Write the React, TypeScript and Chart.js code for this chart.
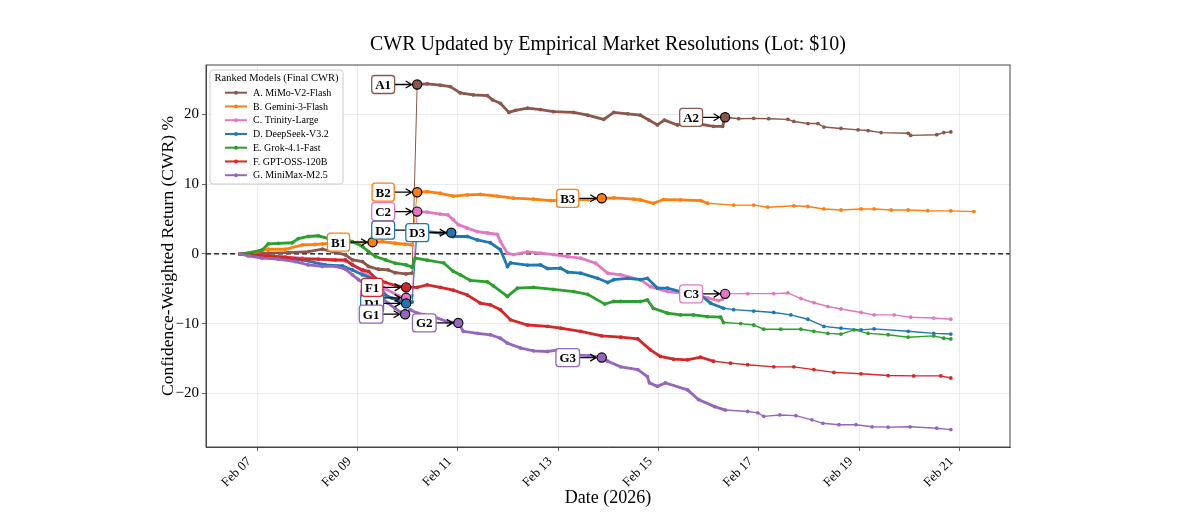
import React, { useEffect, useRef } from "react";
import { Chart, registerables } from "chart.js";

Chart.register(...registerables);

const FONT = '"Liberation Serif", "Times New Roman", serif';

const chartTitle = "CWR Updated by Empirical Market Resolutions (Lot: $10)";
const xAxisTitle = "Date (2026)";
const yAxisTitle = "Confidence-Weighted Return (CWR) %";
const legendTitle = "Ranked Models (Final CWR)";

const modelNames = [
  "A. MiMo-V2-Flash",
  "B. Gemini-3-Flash",
  "C. Trinity-Large",
  "D. DeepSeek-V3.2",
  "E. Grok-4.1-Fast",
  "F. GPT-OSS-120B",
  "G. MiniMax-M2.5",
];
const modelColors = ["#8c564b", "#ff7f0e", "#e377c2", "#1f77b4", "#2ca02c", "#d62728", "#9467bd"];

// x values are days of February 2026 (fractional)
const aDays = [6.66, 6.82, 7.22, 7.62, 8.02, 8.3, 8.5, 8.76, 8.9, 9.1, 9.22, 9.42, 9.61, 9.75, 9.97, 10.09, 10.19, 10.39, 10.65, 10.85, 11.05, 11.31, 11.59, 11.69, 11.85, 12.02, 12.15, 12.39, 12.65, 12.91, 13.31, 13.59, 13.91, 14.11, 14.39, 14.64, 14.81, 14.98, 15.12, 15.38, 15.58, 15.84, 16.1, 16.28, 16.33, 16.6, 16.9, 17.2, 17.58, 17.7, 17.98, 18.18, 18.3, 18.64, 18.98, 19.18, 19.44, 19.98, 20.03, 20.55, 20.69, 20.83];
const aCwr = [0, 0.05, 0.1, 0.19, 0.33, 0.67, 0.33, -0.14, -0.86, -1.1, -1.8, -2.2, -2.3, -2.7, -2.87, -2.77, 24.3, 24.4, 24.2, 24.0, 23.1, 22.8, 22.7, 22.1, 21.6, 20.3, 20.6, 20.9, 20.7, 20.4, 20.3, 19.9, 19.3, 20.3, 20.1, 19.9, 19.2, 18.5, 19.2, 18.5, 18.8, 18.6, 18.3, 18.3, 19.6, 19.4, 19.45, 19.4, 19.3, 19.0, 18.7, 18.7, 18.2, 18.0, 17.8, 17.7, 17.4, 17.3, 17.0, 17.1, 17.4, 17.5];

const bDays = [6.66, 6.9, 7.22, 7.56, 7.9, 8.15, 8.3, 8.6, 9.0, 9.3, 9.5, 9.75, 9.95, 10.09, 10.19, 10.39, 10.65, 10.91, 11.19, 11.45, 11.79, 12.11, 12.51, 12.85, 13.3, 13.6, 13.87, 14.11, 14.51, 14.64, 14.9, 15.1, 15.44, 15.84, 15.98, 16.5, 16.9, 17.18, 17.7, 17.98, 18.3, 18.64, 19.04, 19.3, 19.64, 19.98, 20.37, 20.83, 21.29];
const bCwr = [0, 0.2, 0.67, 0.67, 1.29, 1.35, 1.43, 1.6, 1.65, 1.68, 1.76, 1.53, 1.4, 1.29, 8.85, 8.93, 8.7, 8.3, 8.46, 8.55, 8.3, 8.0, 7.85, 7.65, 7.75, 7.8, 7.98, 8.05, 7.85, 7.75, 7.25, 7.8, 7.75, 7.65, 7.27, 7.0, 7.0, 6.7, 6.9, 6.8, 6.45, 6.3, 6.45, 6.45, 6.3, 6.3, 6.2, 6.17, 6.07];

const cDays = [6.66, 6.9, 7.22, 7.9, 8.5, 8.76, 8.9, 9.1, 9.3, 9.56, 9.81, 9.97, 10.09, 10.19, 10.39, 10.65, 10.8, 10.91, 11.01, 11.19, 11.39, 11.59, 11.79, 11.85, 11.99, 12.11, 12.39, 12.65, 12.91, 13.19, 13.45, 13.75, 13.99, 14.25, 14.64, 14.84, 15.18, 15.44, 15.7, 15.98, 16.2, 16.28, 16.33, 16.78, 17.3, 17.58, 17.84, 18.1, 18.38, 18.64, 19.04, 19.3, 19.7, 20.03, 20.49, 20.83];
const cCwr = [0, -0.1, -0.3, -0.6, -0.9, -1.0, -1.5, -2.5, -3.5, -5.0, -6.0, -6.3, -6.0, 6.07, 6.0, 5.7, 5.6, 4.9, 4.2, 3.7, 3.2, 3.0, 2.8, 1.8, 0.1, -0.1, 0.3, 0.1, -0.1, -0.4, -0.6, -1.34, -2.77, -3.0, -3.7, -4.7, -5.4, -5.6, -5.9, -6.3, -6.7, -6.5, -5.73, -5.7, -5.7, -5.6, -6.4, -7.0, -7.55, -7.9, -8.4, -8.75, -8.75, -9.08, -9.2, -9.37];

const dDays = [6.66, 6.9, 7.22, 7.9, 8.36, 8.7, 8.9, 9.1, 9.36, 9.56, 9.69, 9.89, 9.97, 10.09, 10.19, 10.39, 10.65, 10.87, 10.91, 11.19, 11.39, 11.65, 11.85, 11.99, 12.05, 12.39, 12.65, 12.79, 13.05, 13.19, 13.45, 13.79, 13.99, 14.11, 14.39, 14.64, 14.78, 14.98, 15.18, 15.44, 15.84, 16.04, 16.3, 16.5, 16.9, 17.3, 17.64, 17.98, 18.3, 18.64, 19.04, 19.3, 19.98, 20.49, 20.83];
const dCwr = [0, -0.2, -0.48, -0.86, -1.58, -1.72, -2.3, -3.0, -3.7, -5.9, -6.35, -6.83, -7.1, -6.9, 3.4, 3.2, 3.0, 3.05, 2.5, 2.5, 2.0, 1.6, 0.6, -1.8, -1.3, -1.6, -1.58, -2.1, -2.05, -2.6, -2.77, -3.5, -4.1, -3.7, -3.5, -3.7, -3.5, -4.9, -4.9, -5.4, -5.9, -7.07, -7.8, -8.0, -8.2, -8.4, -8.75, -9.37, -10.4, -10.66, -10.9, -10.75, -11.1, -11.4, -11.5];

const eDays = [6.66, 6.82, 7.1, 7.22, 7.42, 7.7, 7.82, 8.02, 8.22, 8.42, 8.7, 8.9, 9.1, 9.22, 9.36, 9.56, 9.75, 9.97, 10.09, 10.15, 10.39, 10.72, 10.91, 11.05, 11.25, 11.59, 11.71, 11.99, 12.19, 12.51, 12.91, 13.31, 13.59, 13.93, 14.11, 14.25, 14.64, 14.78, 14.9, 15.18, 15.44, 15.7, 15.98, 16.24, 16.3, 16.64, 16.9, 17.1, 17.44, 17.84, 18.1, 18.38, 18.64, 18.9, 19.18, 19.58, 19.98, 20.49, 20.69, 20.83];
const eCwr = [0, 0.1, 0.57, 1.43, 1.5, 1.6, 2.2, 2.5, 2.6, 2.2, 2.3, 1.76, 1.05, 0.33, -0.38, -0.86, -1.34, -1.58, -1.9, -0.6, -0.9, -1.3, -2.5, -3.0, -3.8, -4.0, -4.6, -6.1, -4.9, -4.8, -5.1, -5.4, -5.8, -7.2, -6.83, -6.83, -6.83, -6.6, -7.8, -8.5, -8.75, -8.75, -9.0, -9.08, -9.85, -10.0, -10.2, -10.8, -10.8, -10.8, -11.1, -11.4, -11.5, -10.9, -11.4, -11.6, -11.95, -11.76, -12.1, -12.2];

const fDays = [6.66, 6.9, 7.22, 7.56, 7.9, 8.22, 8.56, 8.76, 8.9, 9.1, 9.22, 9.36, 9.56, 9.75, 9.97, 10.19, 10.39, 10.65, 10.91, 11.19, 11.45, 11.65, 11.85, 12.05, 12.39, 12.79, 13.05, 13.45, 13.87, 14.25, 14.59, 14.84, 15.04, 15.3, 15.58, 15.84, 16.1, 16.44, 16.78, 17.3, 17.7, 18.1, 18.5, 19.04, 19.58, 20.09, 20.63, 20.83];
const fCwr = [0, -0.15, -0.29, -0.48, -0.76, -0.76, -0.86, -0.86, -1.58, -2.3, -2.5, -3.5, -4.1, -4.5, -4.8, -4.8, -4.44, -4.8, -5.2, -5.9, -7.07, -7.3, -8.0, -9.46, -10.2, -10.4, -10.66, -11.1, -11.76, -11.95, -12.2, -13.76, -14.7, -15.1, -15.2, -14.8, -15.4, -15.67, -15.9, -16.2, -16.2, -16.6, -17.0, -17.2, -17.45, -17.5, -17.5, -17.8];

const gDays = [6.66, 6.82, 7.1, 7.42, 7.76, 8.02, 8.3, 8.56, 8.76, 8.9, 9.02, 9.22, 9.42, 9.61, 9.75, 9.89, 9.95, 10.05, 10.19, 10.51, 10.79, 11.01, 11.11, 11.39, 11.65, 11.85, 11.99, 12.25, 12.51, 12.79, 13.0, 13.3, 13.6, 13.87, 13.99, 14.25, 14.59, 14.78, 14.82, 14.98, 15.14, 15.58, 15.8, 16.12, 16.34, 16.78, 16.98, 17.1, 17.42, 17.74, 18.06, 18.28, 18.6, 18.94, 19.26, 19.58, 20.02, 20.55, 20.83];
const gCwr = [0, -0.29, -0.62, -0.76, -1.1, -1.58, -1.8, -1.8, -2.2, -3.0, -3.7, -4.7, -5.9, -7.07, -7.8, -8.5, -8.65, -8.0, -8.5, -9.0, -9.7, -9.9, -11.1, -11.4, -11.6, -12.1, -12.8, -13.5, -13.9, -14.0, -13.76, -14.5, -14.6, -14.87, -15.4, -16.2, -16.6, -17.6, -18.5, -19.0, -18.5, -19.5, -20.9, -21.9, -22.4, -22.6, -22.8, -23.3, -23.1, -23.2, -23.8, -24.3, -24.5, -24.5, -24.8, -24.85, -24.8, -25.0, -25.2];

const seriesDays = [aDays, bDays, cDays, dDays, eDays, fDays, gDays];
const seriesCwr = [aCwr, bCwr, cCwr, dCwr, eCwr, fCwr, gCwr];

const xTickDays = [7, 9, 11, 13, 15, 17, 19, 21];
const xTickLabels = ["Feb 07", "Feb 09", "Feb 11", "Feb 13", "Feb 15", "Feb 17", "Feb 19", "Feb 21"];
const yTickValues = [-20, -10, 0, 10, 20];

// annotations: label, series index, day, value
const annLabels = ["A1", "A2", "B1", "B2", "B3", "C1", "C2", "C3", "D1", "D2", "D3", "F1", "G1", "G2", "G3"];
const annSeries = [0, 0, 1, 1, 1, 2, 2, 2, 3, 3, 3, 5, 6, 6, 6];
const annDays = [10.19, 16.33, 9.3, 10.19, 13.87, 9.97, 10.19, 16.33, 9.97, 10.19, 10.87, 9.97, 9.95, 11.01, 13.87];
const annValues = [24.3, 19.6, 1.68, 8.85, 7.98, -6.3, 6.07, -5.73, -7.1, 3.4, 3.05, -4.8, -8.65, -9.9, -14.87];

const overlay = {
  id: "overlay",
  beforeDatasetsDraw(chart: any) {
    const { ctx, chartArea, scales } = chart;
    const y0 = scales.y.getPixelForValue(0);
    ctx.save();
    ctx.beginPath();
    ctx.rect(chartArea.left, chartArea.top, chartArea.right - chartArea.left, chartArea.bottom - chartArea.top);
    ctx.clip();
    ctx.setLineDash([5, 3]);
    ctx.strokeStyle = "#000";
    ctx.lineWidth = 1.1;
    ctx.beginPath();
    ctx.moveTo(chartArea.left, y0);
    ctx.lineTo(chartArea.right, y0);
    ctx.stroke();
    ctx.restore();
  },
  afterDraw(chart: any) {
    const { ctx, chartArea, scales } = chart;
    const { left, right, top, bottom } = chartArea;
    ctx.save();

    // annotations
    const offset = 34;
    for (let i = 0; i < annLabels.length; i++) {
      const color = modelColors[annSeries[i]];
      const mx = scales.x.getPixelForValue(annDays[i]);
      const my = scales.y.getPixelForValue(annValues[i]);
      const cx = mx - offset;
      ctx.font = `bold 13px ${FONT}`;
      const tw = ctx.measureText(annLabels[i]).width;
      const bw = tw + 7;
      const bh = 18;
      const bx = cx - bw / 2;
      const by = my - bh / 2;
      // arrow
      const ax0 = bx + bw;
      const ax1 = mx - 5.5;
      ctx.strokeStyle = "#000";
      ctx.lineWidth = 1.3;
      ctx.setLineDash([]);
      ctx.beginPath();
      ctx.moveTo(ax0, my);
      ctx.lineTo(ax1, my);
      ctx.moveTo(ax1 - 6, my - 3.5);
      ctx.lineTo(ax1, my);
      ctx.lineTo(ax1 - 6, my + 3.5);
      ctx.stroke();
      // marker
      ctx.beginPath();
      ctx.arc(mx, my, 4.6, 0, Math.PI * 2);
      ctx.fillStyle = color;
      ctx.fill();
      ctx.lineWidth = 1.2;
      ctx.strokeStyle = "#000";
      ctx.stroke();
      // box
      ctx.beginPath();
      ctx.roundRect(bx, by, bw, bh, 3);
      ctx.fillStyle = "#fff";
      ctx.fill();
      ctx.strokeStyle = color;
      ctx.lineWidth = 1.3;
      ctx.stroke();
      ctx.fillStyle = "#000";
      ctx.textAlign = "center";
      ctx.textBaseline = "middle";
      ctx.fillText(annLabels[i], cx, my + 1);
    }

    // frame
    ctx.strokeStyle = "#444";
    ctx.lineWidth = 1;
    ctx.strokeRect(left, top, right - left, bottom - top);

    // legend
    const lx = left + 4;
    const ly = top + 5;
    const lw = 133;
    const lh = 114;
    ctx.beginPath();
    ctx.roundRect(lx, ly, lw, lh, 3);
    ctx.fillStyle = "rgba(255,255,255,0.85)";
    ctx.fill();
    ctx.strokeStyle = "#cccccc";
    ctx.lineWidth = 1;
    ctx.stroke();
    ctx.fillStyle = "#000";
    ctx.font = `10.5px ${FONT}`;
    ctx.textAlign = "center";
    ctx.textBaseline = "middle";
    ctx.fillText(legendTitle, lx + lw / 2, ly + 8.5);
    ctx.textAlign = "left";
    ctx.font = `10px ${FONT}`;
    for (let i = 0; i < modelNames.length; i++) {
      const ry = ly + 22.7 + i * 13.75;
      ctx.strokeStyle = modelColors[i];
      ctx.lineWidth = 2;
      ctx.beginPath();
      ctx.moveTo(lx + 15, ry);
      ctx.lineTo(lx + 37, ry);
      ctx.stroke();
      ctx.beginPath();
      ctx.arc(lx + 26, ry, 2, 0, Math.PI * 2);
      ctx.fillStyle = modelColors[i];
      ctx.fill();
      ctx.fillStyle = "#000";
      ctx.fillText(modelNames[i], lx + 43, ry + 0.5);
    }

    // titles
    const midX = (left + right) / 2;
    ctx.fillStyle = "#000";
    ctx.textAlign = "center";
    ctx.textBaseline = "middle";
    ctx.font = `20px ${FONT}`;
    ctx.fillText(chartTitle, midX, 45);
    ctx.font = `18px ${FONT}`;
    ctx.fillText(xAxisTitle, midX, 498);
    ctx.font = `17.5px ${FONT}`;
    ctx.translate(168, (top + bottom) / 2);
    ctx.rotate(-Math.PI / 2);
    ctx.fillText(yAxisTitle, 0, 0);
    ctx.restore();
  },
};

export default function App() {
  const canvasRef = useRef<HTMLCanvasElement>(null);

  useEffect(() => {
    const datasets = modelNames.map((name, i) => ({
      label: name,
      data: seriesDays[i].map((d, j) => ({ x: d, y: seriesCwr[i][j] })),
      borderColor: modelColors[i],
      backgroundColor: modelColors[i],
      pointRadius: 1.9,
      pointBorderWidth: 0,
      pointHoverRadius: 0,
      borderWidth: 1.4,
      tension: 0,
      order: modelNames.length - i,
      segment: {
        borderWidth: (c: any) => {
          if (Math.abs(c.p1.y - c.p0.y) > 30) return 1;
          return c.p1.parsed.x < 16.4 ? 2.8 : 1.4;
        },
      },
    }));

    const chart = new Chart(canvasRef.current as HTMLCanvasElement, {
      type: "line",
      data: { datasets } as any,
      options: {
        animation: false,
        responsive: false,
        devicePixelRatio: 1,
        layout: { padding: { left: 0, right: 190, top: 65, bottom: 0 } },
        plugins: {
          legend: { display: false },
          tooltip: { enabled: false },
          title: { display: false },
        },
        scales: {
          x: {
            type: "linear",
            min: 5.98,
            max: 22.01,
            afterBuildTicks: (s: any) => {
              s.ticks = xTickDays.map((v) => ({ value: v }));
            },
            afterFit: (s: any) => {
              s.height = 76;
            },
            ticks: {
              autoSkip: false,
              maxRotation: 45,
              minRotation: 45,
              padding: 3,
              labelOffset: -8,
              color: "#000",
              font: { family: FONT, size: 13 },
              callback: (v: any) => xTickLabels[xTickDays.indexOf(Number(v))],
            },
            grid: { color: "#e6e6e6", lineWidth: 0.8, tickColor: "#444", tickLength: 4 },
            border: { display: true, color: "#444", width: 1 },
          },
          y: {
            type: "linear",
            min: -27.7,
            max: 27.1,
            afterBuildTicks: (s: any) => {
              s.ticks = yTickValues.map((v) => ({ value: v }));
            },
            afterFit: (s: any) => {
              s.width = 206;
            },
            ticks: {
              padding: 3,
              color: "#000",
              font: { family: FONT, size: 15 },
              callback: (v: any) => (Number(v) < 0 ? "\u2212" + Math.abs(Number(v)) : String(v)),
            },
            grid: { color: "#e6e6e6", lineWidth: 0.8, tickColor: "#444", tickLength: 4 },
            border: { display: true, color: "#444", width: 1 },
          },
        },
      } as any,
      plugins: [overlay],
    });
    return () => chart.destroy();
  }, []);

  return (
    <div style={{ position: "fixed", left: 0, top: 0, width: 1200, height: 523, background: "#fff" }}>
      <canvas ref={canvasRef} width={1200} height={523} style={{ width: 1200, height: 523, display: "block" }} />
    </div>
  );
}
